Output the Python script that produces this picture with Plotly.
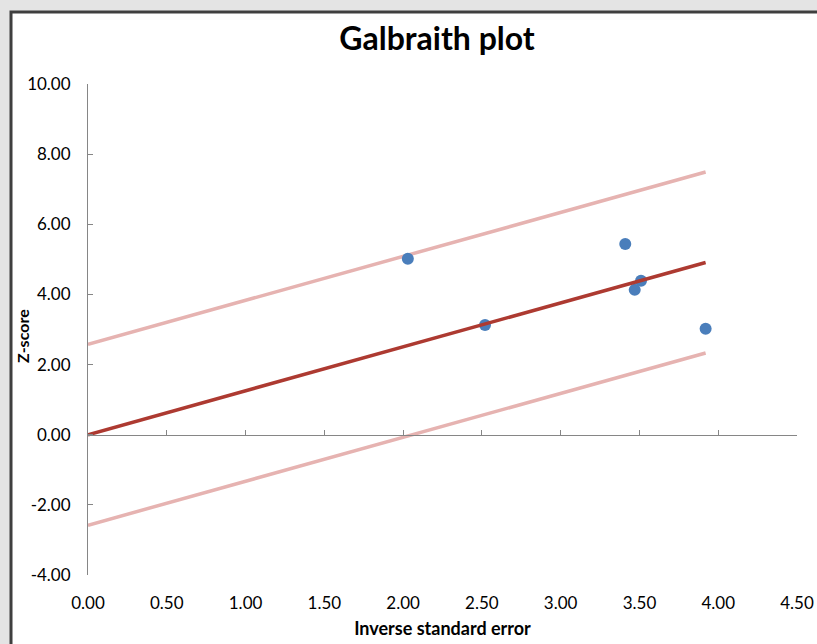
import plotly.graph_objects as go

# Study points
inv_se = [2.03, 2.52, 3.41, 3.47, 3.51, 3.92]
z_score = [5.02, 3.13, 5.44, 4.13, 4.39, 3.02]

# Regression line and confidence bounds
line_x = [0.0, 3.92]
line_center = [0.0, 4.91]
line_upper = [2.58, 7.49]
line_lower = [-2.58, 2.33]

# Tick labels
x_ticks = [0.0, 0.5, 1.0, 1.5, 2.0, 2.5, 3.0, 3.5, 4.0, 4.5]
x_tick_text = ["0.00", "0.50", "1.00", "1.50", "2.00", "2.50", "3.00", "3.50", "4.00", "4.50"]
y_ticks = [-4, -2, 0, 2, 4, 6, 8, 10]
y_tick_text = ["-4.00", "-2.00", "0.00", "2.00", "4.00", "6.00", "8.00", "10.00"]

FONT = "Lato"
AXIS_GREY = "#868686"

fig = go.Figure()

fig.add_trace(go.Scatter(x=line_x, y=line_upper, mode="lines",
                         line=dict(color="#e6b3b1", width=3.5), showlegend=False))
fig.add_trace(go.Scatter(x=line_x, y=line_lower, mode="lines",
                         line=dict(color="#e6b3b1", width=3.5), showlegend=False))
fig.add_trace(go.Scatter(x=line_x, y=line_center, mode="lines", xaxis="x2",
                         line=dict(color="#ad3a31", width=3.5), showlegend=False))
fig.add_trace(go.Scatter(x=inv_se, y=z_score, mode="markers",
                         marker=dict(color="#4a7ebb", size=12), showlegend=False))

L, R, T, B = 88, 20, 84, 69
W, H = 817, 644
pw = W - L - R
ph = H - T - B

def px_x(p):
    return (p - L) / pw

def px_y(p):
    return (H - B - p) / ph

fig.add_shape(type="rect", xref="paper", yref="paper",
              x0=px_x(11), x1=px_x(840), y0=px_y(670), y1=px_y(12),
              line=dict(color="#3f3f3f", width=3), fillcolor="white", layer="below")

# Y-axis title placed as rotated text
fig.add_annotation(text="<b>Z-score</b>", xref="paper", yref="paper",
                   x=px_x(22), y=px_y(336), xanchor="center", yanchor="middle",
                   textangle=-90, showarrow=False, font=dict(family=FONT, size=16, color="#000"))

fig.update_layout(
    width=W, height=H,
    margin=dict(l=L, r=R, t=T, b=B, autoexpand=False),
    paper_bgcolor="#e4e4e4",
    plot_bgcolor="white",
    font=dict(family=FONT, color="#000000", size=17),
    title=dict(text="<b>Galbraith plot</b>", x=px_x(437), xref="paper", xanchor="center",
               y=1 - 39 / H, yanchor="middle", font=dict(family=FONT, size=32, color="#000")),
    xaxis=dict(range=[0, 4.5], tickvals=x_ticks, ticktext=x_tick_text, automargin=False,
               showline=False, showgrid=False, zeroline=False, ticks="",
               ticklabelstandoff=16,
               title=dict(text="<b>Inverse standard error</b>", standoff=10,
                          font=dict(family=FONT, size=18))),
    xaxis2=dict(overlaying="x", matches="x", anchor="free", position=4 / 14,
                range=[0, 4.5], tickvals=x_ticks, showticklabels=False,
                showline=True, linecolor=AXIS_GREY, linewidth=1,
                ticks="inside", ticklen=5, tickcolor=AXIS_GREY,
                showgrid=False, zeroline=False),
    yaxis=dict(range=[-4, 10], tickvals=y_ticks, ticktext=y_tick_text, automargin=False,
               showline=True, linecolor=AXIS_GREY, linewidth=1,
               ticks="inside", ticklen=5, tickcolor=AXIS_GREY,
               showgrid=False, zeroline=False, ticklabelstandoff=13),
)

fig.write_html("out.html", config={"displayModeBar": False},
               post_script="document.body.style.margin='0';")
